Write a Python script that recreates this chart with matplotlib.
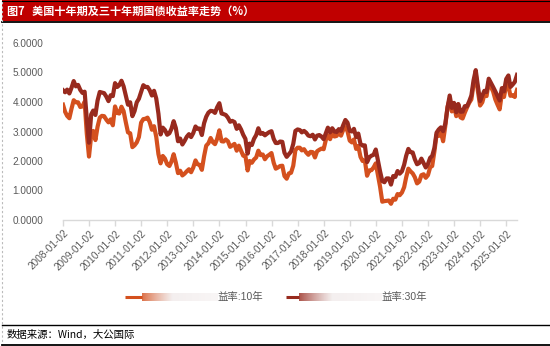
import matplotlib
matplotlib.use("Agg")
import matplotlib.pyplot as plt
from matplotlib.lines import Line2D
import numpy as np
import pandas as pd

plt.rcParams['font.family'] = ['Liberation Sans', 'Noto Sans CJK SC', 'DejaVu Sans']

title = "图7   美国十年期及三十年期国债收益率走势（%）"
source = "数据来源：Wind，大公国际"
label_10 = "益率:10年"
label_30 = "益率:30年"

start_date = "2008-01-02"
start_10 = 3.91
start_30 = 4.40

y10 = [
    3.67, 3.53, 3.45, 3.77, 4.06, 3.99, 3.99, 3.83, 3.85, 4.01, 2.93, 2.15,
    2.87, 3.02, 2.71, 3.16, 3.47, 3.53, 3.52, 3.40, 3.31, 3.41, 3.21, 3.85,
    3.63, 3.61, 3.84, 3.69, 3.31, 2.97, 2.94, 2.47, 2.53, 2.63, 2.81, 3.30,
    3.42, 3.43, 3.47, 3.32, 3.06, 3.18, 2.82, 2.23, 1.92, 2.17, 2.08, 1.89,
    1.83, 1.98, 2.23, 1.95, 1.59, 1.67, 1.51, 1.57, 1.65, 1.72, 1.62, 1.78,
    2.02, 1.89, 1.87, 1.70, 2.16, 2.52, 2.60, 2.78, 2.64, 2.57, 2.75, 3.04,
    2.67, 2.66, 2.73, 2.67, 2.48, 2.53, 2.58, 2.35, 2.52, 2.35, 2.18, 2.17,
    1.68, 2.00, 1.94, 2.05, 2.12, 2.35, 2.20, 2.22, 2.06, 2.16, 2.21, 2.27,
    1.94, 1.74, 1.78, 1.83, 1.84, 1.49, 1.40, 1.58, 1.60, 1.84, 2.37, 2.45,
    2.45, 2.36, 2.40, 2.29, 2.21, 2.31, 2.30, 2.12, 2.33, 2.38, 2.42, 2.40,
    2.72, 2.87, 2.74, 2.95, 2.83, 2.85, 2.96, 2.86, 3.05, 3.15, 3.01, 2.69,
    2.63, 2.73, 2.41, 2.51, 2.14, 2.00, 2.02, 1.50, 1.68, 1.69, 1.78, 1.92,
    1.51, 1.13, 0.62, 0.64, 0.65, 0.66, 0.55, 0.72, 0.69, 0.88, 0.84, 0.93,
    1.11, 1.44, 1.74, 1.65, 1.58, 1.45, 1.24, 1.30, 1.52, 1.55, 1.43, 1.52,
    1.79, 1.83, 2.32, 2.89, 2.85, 2.98, 2.67, 3.19, 3.83, 4.10, 3.68, 3.88,
    3.52, 3.92, 3.48, 3.44, 3.64, 3.81, 3.97, 4.09, 4.59, 4.95, 4.37, 3.88,
    3.99, 4.25, 4.20, 4.69, 4.51, 4.36, 4.09, 3.91, 3.75, 4.28, 4.17, 4.58,
    4.54, 4.21, 4.23, 4.17, 4.41,
]

y30 = [
    4.33, 4.42, 4.29, 4.48, 4.71, 4.53, 4.58, 4.41, 4.31, 4.35, 3.44, 2.62,
    3.58, 3.71, 3.56, 4.05, 4.34, 4.32, 4.30, 4.18, 4.03, 4.23, 4.20, 4.64,
    4.51, 4.57, 4.72, 4.53, 4.22, 3.91, 3.99, 3.52, 3.69, 3.99, 4.11, 4.34,
    4.57, 4.51, 4.51, 4.40, 4.22, 4.38, 4.12, 3.60, 2.90, 3.13, 3.05, 2.89,
    2.94, 3.09, 3.35, 3.12, 2.67, 2.76, 2.56, 2.68, 2.82, 2.91, 2.81, 2.95,
    3.17, 3.09, 3.10, 2.88, 3.28, 3.50, 3.64, 3.70, 3.69, 3.63, 3.82, 3.96,
    3.61, 3.59, 3.56, 3.47, 3.33, 3.36, 3.32, 3.09, 3.21, 3.07, 2.89, 2.75,
    2.25, 2.59, 2.54, 2.75, 2.88, 3.11, 2.92, 2.95, 2.87, 2.93, 2.98, 3.01,
    2.75, 2.61, 2.61, 2.66, 2.65, 2.28, 2.14, 2.23, 2.32, 2.58, 3.02, 3.07,
    3.05, 2.97, 3.02, 2.96, 2.86, 2.84, 2.89, 2.73, 2.86, 2.88, 2.83, 2.74,
    2.95, 3.13, 2.97, 3.11, 3.00, 2.98, 3.08, 3.02, 3.21, 3.39, 3.30, 3.02,
    3.00, 3.09, 2.81, 2.93, 2.58, 2.52, 2.53, 1.96, 2.12, 2.18, 2.21, 2.39,
    2.00, 1.65, 1.32, 1.28, 1.41, 1.41, 1.20, 1.49, 1.46, 1.66, 1.57, 1.65,
    1.87, 2.17, 2.41, 2.30, 2.29, 2.06, 1.89, 1.93, 2.08, 1.93, 1.78, 1.90,
    2.11, 2.17, 2.44, 2.96, 3.07, 3.14, 3.01, 3.27, 3.79, 4.22, 3.80, 3.97,
    3.65, 3.93, 3.67, 3.67, 3.86, 3.85, 4.02, 4.22, 4.73, 5.08, 4.54, 4.03,
    4.22, 4.38, 4.34, 4.79, 4.65, 4.51, 4.36, 4.20, 4.05, 4.47, 4.36, 4.78,
    4.90, 4.51, 4.59, 4.68, 4.92,
]

year_ticks = [f"{y}-01-02" for y in range(2008, 2026)]
y_ticks = [0, 1, 2, 3, 4, 5, 6]

dates = [pd.Timestamp(start_date)] + list(pd.date_range("2008-01-31", periods=len(y10), freq="ME"))
v10 = [start_10] + y10
v30 = [start_30] + y30

c10 = "#D4501E"
c30 = "#982A1E"
grey = "#595959"

fig = plt.figure(figsize=(5.5, 3.46), dpi=100)
W, H = 550, 346

def fx(px):
    return px / W

def fy(py):
    return 1 - py / H

# title bar
fig.patches.append(plt.Rectangle((fx(2), fy(21)), 1 - fx(2), 21 / H, transform=fig.transFigure,
                                 facecolor="#C00000", edgecolor="none", zorder=0))
fig.lines.append(Line2D([fx(2), 1], [fy(21.5), fy(21.5)], transform=fig.transFigure, color="black", lw=1.3))
fig.lines.append(Line2D([fx(2), 1], [fy(0.5), fy(0.5)], transform=fig.transFigure, color="black", lw=0.8))
fig.text(fx(7), fy(11), title, color="white", fontsize=8.0, fontweight="bold",
         family=["Noto Sans CJK SC"], va="center", ha="left")

# left dashed border
fig.lines.append(Line2D([fx(2), fx(2)], [0, 1], transform=fig.transFigure, color="#BBBBBB", lw=0.8,
                        linestyle=(0, (2, 2))))

# footer
fig.lines.append(Line2D([fx(2), 1], [fy(325), fy(325)], transform=fig.transFigure, color="black", lw=1.0))
fig.lines.append(Line2D([fx(2), 1], [fy(344.5), fy(344.5)], transform=fig.transFigure, color="black", lw=1.3))
fig.text(fx(7), fy(335), source, color="black", fontsize=7.5, family=["Noto Sans CJK SC"],
         va="center", ha="left")

# main axes
ax = fig.add_axes([fx(63), fy(220), fx(517) - fx(63), (220 - 43) / H])
ax.plot(dates, v10, color=c10, lw=3.0, solid_joinstyle="round")
ax.plot(dates, v30, color=c30, lw=3.0, solid_joinstyle="round")

ax.set_ylim(0, 6)
ax.set_yticks(y_ticks)
ax.set_yticklabels([f"{v:.4f}" for v in y_ticks])
ax.set_xlim(pd.Timestamp(start_date), dates[-1])
ax.set_xticks([pd.Timestamp(t) for t in year_ticks])
ax.set_xticklabels(year_ticks, rotation=45, ha="right", rotation_mode="anchor")

for s in ["top", "right", "left"]:
    ax.spines[s].set_visible(False)
ax.spines["bottom"].set_color("#D9D9D9")
ax.spines["bottom"].set_linewidth(1.0)
ax.tick_params(axis="y", length=0, labelsize=7.2, labelcolor=grey, pad=14)
ax.tick_params(axis="x", length=4, color="#D9D9D9", width=1.0, labelsize=7.2, labelcolor=grey, pad=2)

# legend (manual)
def legend_item(x0, xs, xe, color, text):
    yc = fy(297)
    fig.lines.append(Line2D([fx(x0), fx(xs)], [yc, yc], transform=fig.transFigure, color=color, lw=2.2,
                            solid_capstyle="butt"))
    gax = fig.add_axes([fx(xs), fy(301), fx(xe) - fx(xs), 8 / H])
    n = 100
    rgb = np.array(matplotlib.colors.to_rgb(color))
    grad = np.zeros((1, n, 4))
    t = np.linspace(0, 1, n)
    light = np.array([0.93, 0.90, 0.90])
    for i in range(n):
        k = min(1, t[i] * 2.5)
        grad[0, i, :3] = rgb * (1 - k) + light * k
        grad[0, i, 3] = 0.8 - 0.45 * t[i]
    gax.imshow(grad, aspect="auto", extent=[0, 1, 0, 1])
    gax.set_axis_off()
    fig.text(fx(xe), yc, text, color=grey, fontsize=7.5, va="center", ha="left",
             family=["Liberation Sans", "Noto Sans CJK SC"])

legend_item(125, 142, 218, c10, label_10)
legend_item(286, 299, 381, c30, label_30)

fig.savefig("out.png", dpi=100)
